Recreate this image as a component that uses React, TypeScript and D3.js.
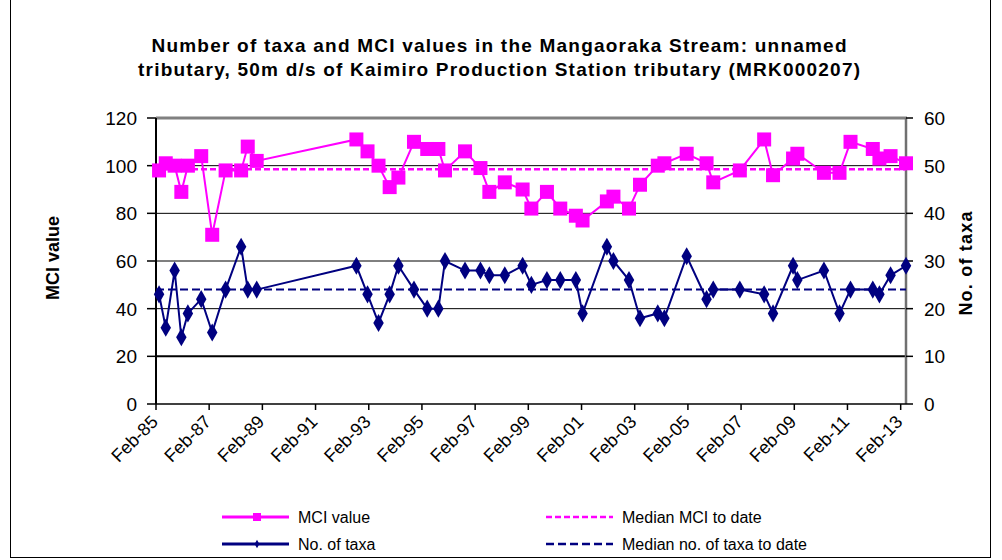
import React, { useEffect, useRef } from 'react'
import * as d3 from 'd3'

// sample dates (year-month)
const sampleDates = [
  '1985-03', '1985-06', '1985-10', '1986-01', '1986-04', '1986-10', '1987-03', '1987-09',
  '1988-04', '1988-07', '1988-11', '1992-08', '1993-01', '1993-06', '1993-11', '1994-03',
  '1994-10', '1995-04', '1995-09', '1995-12', '1996-09', '1997-04', '1997-08', '1998-03',
  '1998-11', '1999-03', '1999-10', '2000-04', '2000-11', '2001-02', '2002-01', '2002-04',
  '2002-11', '2003-04', '2003-12', '2004-03', '2005-01', '2005-10', '2006-01', '2007-01',
  '2007-12', '2008-04', '2009-01', '2009-03', '2010-03', '2010-10', '2011-03', '2012-01',
  '2012-04', '2012-09', '2013-04'
]

const mciValues = [
  98, 101, 100, 89, 100, 104, 71, 98, 98, 108, 102, 111, 106, 100, 91, 95,
  110, 107, 107, 98, 106, 99, 89, 93, 90, 82, 89, 82, 79, 77, 85, 87,
  82, 92, 100, 101, 105, 101, 93, 98, 111, 96, 103, 105, 97, 97, 110, 107,
  103, 104, 101
]

const taxaValues = [
  23, 16, 28, 14, 19, 22, 15, 24, 33, 24, 24, 29, 23, 17, 23, 29,
  24, 20, 20, 30, 28, 28, 27, 27, 29, 25, 26, 26, 26, 19, 33, 30,
  26, 18, 19, 18, 31, 22, 24, 24, 23, 19, 29, 26, 28, 19, 24, 24,
  23, 27, 29
]

const medianMci = 98.5
const medianTaxa = 24

const mciTicks = [0, 20, 40, 60, 80, 100, 120]
const taxaTicks = [0, 10, 20, 30, 40, 50, 60]
const xTickYears = d3.range(1985, 2014, 2)

const titleLines = [
  'Number of taxa and MCI values in the Mangaoraka Stream: unnamed',
  'tributary, 50m d/s of Kaimiro Production Station tributary (MRK000207)'
]

const legendItems = [
  { label: 'MCI value', color: '#ff00ff', kind: 'square', col: 0, row: 0 },
  { label: 'Median MCI to date', color: '#ff00ff', kind: 'dash', col: 1, row: 0 },
  { label: 'No. of taxa', color: '#000080', kind: 'diamond', col: 0, row: 1 },
  { label: 'Median no. of taxa to date', color: '#000080', kind: 'dash', col: 1, row: 1 }
]

const WIDTH = 1002
const HEIGHT = 560
const MAGENTA = '#ff00ff'
const NAVY = '#000080'
const FONT = 'Arial, "Liberation Sans", sans-serif'

export default function App () {
  const ref = useRef(null)

  useEffect(() => {
    const svg = d3.select(ref.current)
    svg.selectAll('*').remove()

    const parse = d3.timeParse('%Y-%m-%d')
    const dates = sampleDates.map((s) => parse(s + '-15'))

    const left = 156
    const right = 906
    const top = 118
    const bottom = 404

    const x = d3.scaleTime()
      .domain([new Date(1985, 1, 1), new Date(2013, 3, 15)])
      .range([left, right])
    const yMci = d3.scaleLinear().domain([0, 120]).range([bottom, top])
    const yTaxa = d3.scaleLinear().domain([0, 60]).range([bottom, top])

    // outer frame
    svg.append('rect')
      .attr('x', 10.5).attr('y', -5)
      .attr('width', 980).attr('height', 562.5)
      .attr('fill', 'white').attr('stroke', 'black')

    // title (stretched a bit like the excel rendering)
    const titleWidths = [695, 722]
    svg.append('g').selectAll('text')
      .data(titleLines)
      .enter().append('text')
      .attr('x', 499)
      .attr('y', (d, i) => 52 + i * 24)
      .attr('text-anchor', 'middle')
      .attr('font-family', FONT)
      .attr('font-size', 19)
      .attr('font-weight', 'bold')
      .attr('textLength', (d, i) => titleWidths[i])
      .attr('lengthAdjust', 'spacing')
      .text((d) => d)

    // gridlines
    svg.append('g').selectAll('line')
      .data([20, 40, 60, 80, 100])
      .enter().append('line')
      .attr('x1', left).attr('x2', right)
      .attr('y1', (d) => yMci(d)).attr('y2', (d) => yMci(d))
      .attr('stroke', 'black')
      .attr('stroke-width', (d) => d === 20 ? 2 : 1)

    // plot border top / right
    svg.append('line')
      .attr('x1', left).attr('x2', right + 1)
      .attr('y1', top).attr('y2', top)
      .attr('stroke', '#808080').attr('stroke-width', 3)
    svg.append('line')
      .attr('x1', right).attr('x2', right)
      .attr('y1', top).attr('y2', bottom)
      .attr('stroke', '#707070').attr('stroke-width', 2.5)

    // left axis
    svg.append('line')
      .attr('x1', left).attr('x2', left)
      .attr('y1', top).attr('y2', bottom)
      .attr('stroke', 'black').attr('stroke-width', 2)
    const leftAxis = svg.append('g')
    leftAxis.selectAll('line')
      .data(mciTicks)
      .enter().append('line')
      .attr('x1', left - 9).attr('x2', left)
      .attr('y1', (d) => yMci(d)).attr('y2', (d) => yMci(d))
      .attr('stroke', 'black').attr('stroke-width', 1.5)
    leftAxis.selectAll('text')
      .data(mciTicks)
      .enter().append('text')
      .attr('x', 137)
      .attr('y', (d) => yMci(d))
      .attr('dy', '0.36em')
      .attr('text-anchor', 'end')
      .attr('font-family', FONT)
      .attr('font-size', 19)
      .text((d) => d)

    // right axis
    const rightAxis = svg.append('g')
    rightAxis.selectAll('line')
      .data(taxaTicks)
      .enter().append('line')
      .attr('x1', right).attr('x2', right + 7)
      .attr('y1', (d) => yTaxa(d)).attr('y2', (d) => yTaxa(d))
      .attr('stroke', 'black').attr('stroke-width', 1.5)
    rightAxis.selectAll('text')
      .data(taxaTicks)
      .enter().append('text')
      .attr('x', 924)
      .attr('y', (d) => yTaxa(d))
      .attr('dy', '0.36em')
      .attr('font-family', FONT)
      .attr('font-size', 19)
      .text((d) => d)

    // bottom axis
    svg.append('line')
      .attr('x1', left).attr('x2', right)
      .attr('y1', bottom).attr('y2', bottom)
      .attr('stroke', 'black').attr('stroke-width', 1.5)
    const xTicks = xTickYears.map((yr) => new Date(yr, 1, 1))
    const fmt = d3.timeFormat('%b-%y')
    const bottomAxis = svg.append('g')
    bottomAxis.selectAll('line')
      .data(xTicks)
      .enter().append('line')
      .attr('x1', (d) => x(d)).attr('x2', (d) => x(d))
      .attr('y1', bottom).attr('y2', bottom + 6)
      .attr('stroke', 'black').attr('stroke-width', 1.5)
    bottomAxis.selectAll('text')
      .data(xTicks)
      .enter().append('text')
      .attr('transform', (d) => 'translate(' + (x(d) + 3) + ',' + 423 + ') rotate(-45)')
      .attr('text-anchor', 'end')
      .attr('font-family', FONT)
      .attr('font-size', 18)
      .text((d) => fmt(d))

    // axis titles
    svg.append('text')
      .attr('transform', 'translate(59,258) rotate(-90)')
      .attr('text-anchor', 'middle')
      .attr('font-family', FONT)
      .attr('font-size', 18)
      .attr('font-weight', 'bold')
      .text('MCI value')
    svg.append('text')
      .attr('transform', 'translate(972,263) rotate(-90)')
      .attr('text-anchor', 'middle')
      .attr('font-family', FONT)
      .attr('font-size', 18)
      .attr('font-weight', 'bold')
      .attr('letter-spacing', 1.2)
      .text('No. of taxa')

    // median lines
    svg.append('line')
      .attr('x1', left).attr('x2', right)
      .attr('y1', yMci(medianMci)).attr('y2', yMci(medianMci))
      .attr('stroke', MAGENTA).attr('stroke-width', 2.5)
      .attr('stroke-dasharray', '6,3')
    svg.append('line')
      .attr('x1', left).attr('x2', right)
      .attr('y1', yTaxa(medianTaxa)).attr('y2', yTaxa(medianTaxa))
      .attr('stroke', NAVY).attr('stroke-width', 2)
      .attr('stroke-dasharray', '8,4')

    // MCI series
    const mciLine = d3.line()
      .x((d, i) => x(dates[i]))
      .y((d) => yMci(d))
    svg.append('path')
      .datum(mciValues)
      .attr('d', mciLine)
      .attr('fill', 'none')
      .attr('stroke', MAGENTA)
      .attr('stroke-width', 2)
    svg.append('g').selectAll('rect')
      .data(mciValues)
      .enter().append('rect')
      .attr('x', (d, i) => x(dates[i]) - 7)
      .attr('y', (d) => yMci(d) - 7)
      .attr('width', 14).attr('height', 14)
      .attr('fill', MAGENTA)

    // taxa series
    const taxaLine = d3.line()
      .x((d, i) => x(dates[i]))
      .y((d) => yTaxa(d))
    svg.append('path')
      .datum(taxaValues)
      .attr('d', taxaLine)
      .attr('fill', 'none')
      .attr('stroke', NAVY)
      .attr('stroke-width', 2)
    const diamond = d3.symbol(d3.symbolDiamond, 95)
    svg.append('g').selectAll('path')
      .data(taxaValues)
      .enter().append('path')
      .attr('d', diamond)
      .attr('transform', (d, i) => 'translate(' + x(dates[i]) + ',' + yTaxa(d) + ')')
      .attr('fill', NAVY)

    // legend
    const legend = svg.append('g')
    const colX = [222, 546]
    const rowY = [517, 544]
    legendItems.forEach((item) => {
      const lx = colX[item.col]
      const ly = rowY[item.row]
      const g = legend.append('g')
      g.append('line')
        .attr('x1', lx).attr('x2', lx + 67)
        .attr('y1', ly).attr('y2', ly)
        .attr('stroke', item.color)
        .attr('stroke-width', item.kind === 'dash' ? 2.5 : 3)
        .attr('stroke-dasharray', item.kind === 'dash' ? (item.color === MAGENTA ? '6,3' : '8,4') : null)
      if (item.kind === 'square') {
        g.append('rect')
          .attr('x', lx + 35 - 4).attr('y', ly - 4)
          .attr('width', 8).attr('height', 8)
          .attr('fill', item.color)
      }
      if (item.kind === 'diamond') {
        g.append('path')
          .attr('d', d3.symbol(d3.symbolDiamond, 20))
          .attr('transform', 'translate(' + (lx + 35) + ',' + ly + ')')
          .attr('fill', item.color)
      }
      g.append('text')
        .attr('x', item.col === 0 ? 298 : 622)
        .attr('y', ly)
        .attr('dy', '0.36em')
        .attr('font-family', FONT)
        .attr('font-size', 16)
        .text(item.label)
    })
  }, [])

  return (
    <svg
      ref={ref}
      width={WIDTH}
      height={HEIGHT}
      style={{ position: 'absolute', left: 0, top: 0, background: 'white' }}
    />
  )
}
